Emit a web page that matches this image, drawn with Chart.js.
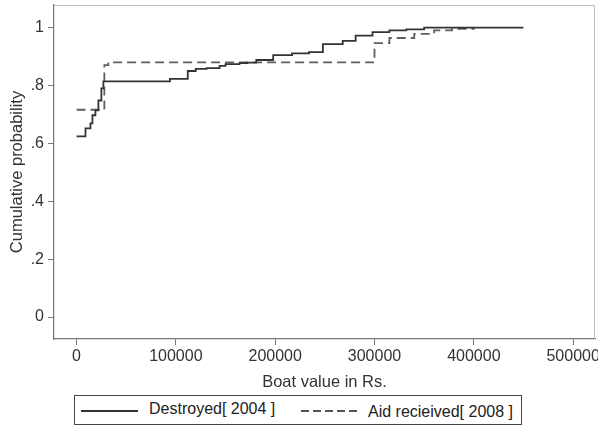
<!DOCTYPE html>
<html>
<head>
<meta charset="utf-8">
<script src="https://cdn.jsdelivr.net/npm/chart.js@4.4.1/dist/chart.umd.min.js"></script>
<style>
  html, body { margin: 0; padding: 0; background: #fff; }
  #wrap { position: relative; width: 598px; height: 425px; overflow: hidden; }
  #box { position: absolute; left: 0; top: 0; width: 598px; height: 395px; }
  #legend {
    position: absolute; left: 74px; top: 395px; width: 446px; height: 28px;
    border: 1px solid #444; font-family: "Liberation Sans", Arial, sans-serif;
    font-size: 16px; color: #222;
  }
  .item { position: absolute; top: 0; height: 28px; line-height: 28px; white-space: nowrap; }
  .sample { position: absolute; width: 57px; height: 2px; top: 14px; }
</style>
</head>
<body>
<div id="wrap">
  <div id="box"><canvas id="cdfChart"></canvas></div>
  <div id="legend">
    <div class="item" style="left:6px">
      <span class="sample" style="background:#333"></span>
      <span style="position:absolute;left:68px;top:-1px">Destroyed[ 2004 ]</span>
    </div>
    <div class="item" style="left:226px">
      <span class="sample" style="background:repeating-linear-gradient(90deg,#555 0 8px,transparent 8px 12px)"></span>
      <span style="position:absolute;left:67px;top:2px">Aid recieived[ 2008 ]</span>
    </div>
  </div>
</div>
<script>
const destroyedValue = [0, 9000, 14000, 16000, 19000, 22000, 25000, 27000, 94000, 112000, 120000, 131000, 144000, 150000, 164000, 172000, 181000, 198000, 217000, 234000, 248000, 268000, 281000, 298000, 315000, 332000, 350000, 450000];
const destroyedProb  = [0.624, 0.652, 0.669, 0.697, 0.714, 0.748, 0.79, 0.814, 0.823, 0.85, 0.857, 0.86, 0.868, 0.874, 0.877, 0.879, 0.888, 0.905, 0.911, 0.915, 0.943, 0.954, 0.972, 0.984, 0.99, 0.994, 1.0, 1.0];

const aidValue = [0, 28000, 32000, 300000, 315000, 340000, 360000, 378000, 400000];
const aidProb  = [0.716, 0.87, 0.88, 0.946, 0.964, 0.978, 0.99, 0.996, 1.0];

const xTicks = [0, 100000, 200000, 300000, 400000, 500000];
const yTicks = [0, 0.2, 0.4, 0.6, 0.8, 1];
const yTickLabels = ["0", ".2", ".4", ".6", ".8", "1"];

const font = { family: "'Liberation Sans', Arial, sans-serif", size: 16 };
const titleFont = { family: "'Liberation Sans', Arial, sans-serif", size: 16.5 };

function toPoints(xs, ys) {
  return xs.map((x, i) => ({ x: x, y: ys[i] }));
}

const plotFrame = {
  id: "plotFrame",
  afterDatasetsDraw(chart) {
    const { ctx, chartArea: a } = chart;
    ctx.save();
    ctx.strokeStyle = "#bdbdbd";
    ctx.lineWidth = 1;
    ctx.beginPath();
    ctx.moveTo(a.left, a.top + 0.5);
    ctx.lineTo(a.right - 0.5, a.top + 0.5);
    ctx.lineTo(a.right - 0.5, a.bottom);
    ctx.stroke();
    ctx.restore();
  }
};

new Chart(document.getElementById("cdfChart"), {
  type: "line",
  data: {
    datasets: [
      {
        label: "Destroyed[ 2004 ]",
        data: toPoints(destroyedValue, destroyedProb),
        borderColor: "#333333",
        borderWidth: 1.8,
        stepped: true,
        pointRadius: 0,
        fill: false
      },
      {
        label: "Aid recieived[ 2008 ]",
        data: toPoints(aidValue, aidProb),
        borderColor: "#5f5f5f",
        borderWidth: 1.8,
        borderDash: [9, 5],
        stepped: true,
        pointRadius: 0,
        fill: false
      }
    ]
  },
  options: {
    responsive: true,
    maintainAspectRatio: false,
    animation: false,
    layout: { padding: { top: 5, right: 3, left: 0, bottom: 0 } },
    plugins: { legend: { display: false }, tooltip: { enabled: false } },
    scales: {
      x: {
        type: "linear",
        min: -22700,
        max: 522000,
        afterBuildTicks: (s) => { s.ticks = xTicks.map((v) => ({ value: v })); },
        afterFit: (s) => { s.height = 56; s.paddingLeft = 0; s.paddingRight = 0; },
        ticks: { color: "#333", font: font, padding: 2, maxRotation: 0, autoSkip: false, callback: (v) => String(v) },
        grid: { drawOnChartArea: false, tickLength: 6, color: "#777" },
        border: { display: true, color: "#777", width: 1.2 },
        title: { display: true, text: "Boat value in Rs.", color: "#333", font: titleFont, padding: { top: 0, bottom: 3 } }
      },
      y: {
        type: "linear",
        min: -0.076,
        max: 1.078,
        afterBuildTicks: (s) => { s.ticks = yTicks.map((v) => ({ value: v })); },
        afterFit: (s) => { s.width = 54; s.paddingTop = 0; s.paddingBottom = 0; },
        ticks: { color: "#333", font: font, padding: 4, autoSkip: false, callback: (v, i) => yTickLabels[i] },
        grid: { drawOnChartArea: false, tickLength: 6, color: "#777" },
        border: { display: true, color: "#777", width: 1.2 },
        title: { display: true, text: "Cumulative probability", color: "#333", font: titleFont, padding: { top: 8, bottom: 0 } }
      }
    }
  },
  plugins: [plotFrame]
});
</script>
</body>
</html>
